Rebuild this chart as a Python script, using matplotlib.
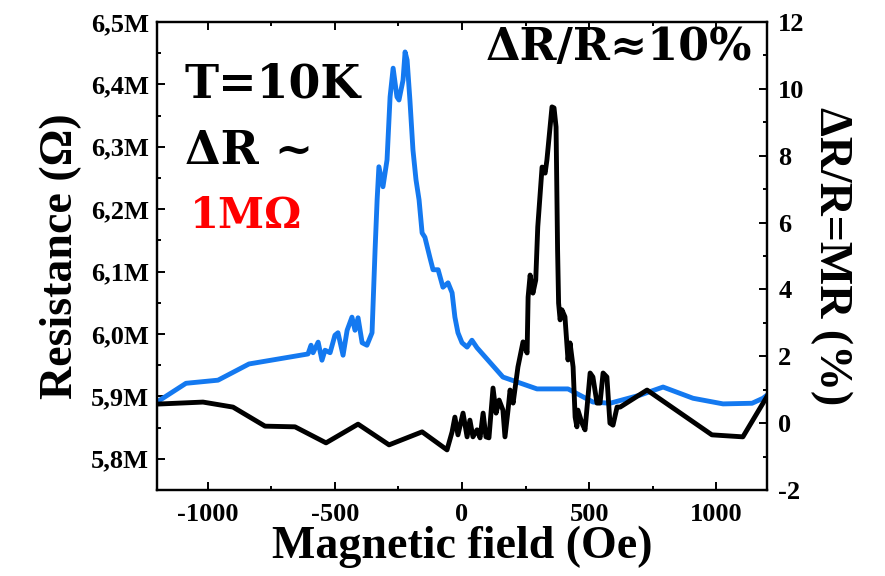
import numpy as np
import matplotlib.pyplot as plt
from matplotlib.ticker import FuncFormatter, MultipleLocator

plt.rcParams['axes.unicode_minus'] = False

# Resistance curve (blue), field in Oe, resistance in MOhm
field_r = [-1200, -1086, -960, -838, -606, -594, -586, -566, -551, -539, -519, -500,
           -488, -468, -452, -433, -421, -409, -393, -374, -354, -342, -334, -327,
           -311, -295, -283, -271, -256, -248, -232, -224, -216, -205, -193, -181,
           -169, -157, -146, -126, -114, -94, -75, -55, -39, -28, -16, 0, 20, 39,
           59, 161, 295, 417, 515, 582, 700, 791, 909, 1027, 1141, 1184, 1200]
resist = [5.891, 5.921, 5.926, 5.952, 5.968, 5.982, 5.970, 5.987, 5.958, 5.974, 5.970, 5.998,
          6.002, 5.966, 6.006, 6.027, 6.006, 6.026, 5.986, 5.982, 6.002, 6.135, 6.215, 6.268,
          6.236, 6.279, 6.380, 6.426, 6.380, 6.375, 6.407, 6.452, 6.439, 6.375, 6.295, 6.247,
          6.215, 6.162, 6.155, 6.122, 6.103, 6.103, 6.075, 6.082, 6.066, 6.027, 6.002, 5.986, 5.979, 5.990,
          5.978, 5.931, 5.912, 5.912, 5.891, 5.889, 5.902, 5.915, 5.897, 5.888, 5.889, 5.897, 5.902]

# MR curve (black), %
field_mr = [-1200, -1019, -901, -775, -657, -535, -409, -287, -157, -59, -39, -28, -16, 4,
            20, 31, 43, 59, 71, 83, 94, 106, 122, 134, 146, 161, 169, 181, 189, 201,
            220, 240, 256, 260, 268, 279, 290, 298, 315, 327, 334, 354, 362, 370, 376,
            380, 386, 393, 405, 417, 425, 437, 445, 452, 456, 472, 484, 504, 515, 531,
            543, 555, 570, 582, 594, 610, 622, 728, 983, 1105, 1200]
mr = [0.57, 0.63, 0.48, -0.09, -0.11, -0.59, -0.03, -0.65, -0.26, -0.80, -0.26, 0.18, -0.35, 0.30,
      -0.41, 0.09, -0.41, -0.20, -0.44, 0.30, -0.41, -0.44, 1.05, 0.30, 0.69, 0.39, -0.41, 0.39, 0.99, 0.60,
      1.68, 2.43, 2.10, 3.77, 4.43, 3.89, 4.28, 5.87, 7.66, 7.48, 7.87, 9.46, 9.43, 8.86, 5.18,
      3.59, 3.09, 3.39, 3.18, 1.89, 2.40, 1.68, 0.18, -0.11, 0.39, 0.00, -0.20, 1.50, 1.38, 0.60,
      0.60, 1.50, 1.38, 0.00, -0.06, 0.48, 0.48, 0.99, -0.35, -0.41, 0.80]

serif = ['Liberation Serif', 'DejaVu Serif']
slab = ['DejaVu Serif']

fig = plt.figure(figsize=(8.85, 5.76), dpi=100)
ax = fig.add_axes([0.1774, 0.1493, 0.6893, 0.8125])
ax2 = ax.twinx()

ax.plot(field_r, resist, color='#1479f0', lw=3.5, solid_joinstyle='round')
ax2.plot(field_mr, mr, color='black', lw=3.5, solid_joinstyle='round')

ax.set_xlim(-1200, 1200)
ax.set_ylim(5.75, 6.5)
ax2.set_ylim(-2, 12)

ax.xaxis.set_major_locator(MultipleLocator(500))
ax.xaxis.set_minor_locator(MultipleLocator(250))
ax.yaxis.set_major_locator(MultipleLocator(0.1))
ax.yaxis.set_minor_locator(MultipleLocator(0.05))
ax.yaxis.set_major_formatter(FuncFormatter(lambda v, p: f"{v:.1f}M".replace('.', ',')))
ax2.yaxis.set_major_locator(MultipleLocator(2))
ax2.yaxis.set_minor_locator(MultipleLocator(1))
ax2.yaxis.set_major_formatter(FuncFormatter(lambda v, p: f"{v:.0f}"))

for a in (ax, ax2):
    for s in a.spines.values():
        s.set_linewidth(1.6)
ax.tick_params(axis='x', which='both', direction='in', top=True, width=1.4)
ax.tick_params(axis='x', which='major', length=6, pad=9)
ax.tick_params(axis='x', which='minor', length=3)
ax.tick_params(axis='y', which='both', direction='in', width=1.4)
ax.tick_params(axis='y', which='major', length=6, pad=6)
ax.tick_params(axis='y', which='minor', length=3)
ax2.tick_params(axis='y', which='both', direction='in', width=1.4)
ax2.tick_params(axis='y', which='major', length=6, pad=8)
ax2.tick_params(axis='y', which='minor', length=3)

for lab in ax.get_xticklabels() + ax.get_yticklabels() + ax2.get_yticklabels():
    lab.set_family(serif)
    lab.set_fontweight('bold')
    lab.set_fontsize(19)

ax.set_xlabel('Magnetic field (Oe)', family=serif, fontweight='bold', fontsize=33, labelpad=0)
ax.set_ylabel('Resistance (Ω)', family=serif, fontweight='bold', fontsize=33, labelpad=6)
ax2.set_ylabel('ΔR/R=MR (%)', family=serif, fontweight='bold', fontsize=33, rotation=270, labelpad=34)

fig.text(0.209, 0.83, 'T=10K', family=slab, fontweight='bold', fontsize=33, color='black')
fig.text(0.209, 0.715, 'ΔR ~', family=slab, fontweight='bold', fontsize=33, color='black')
fig.text(0.214, 0.605, '1MΩ', family=slab, fontweight='bold', fontsize=30, color='#ff0000')
fig.text(0.85, 0.895, 'ΔR/R≈10%', family=slab, fontweight='bold', fontsize=32, color='black', ha='right')

plt.savefig('out.png', dpi=100)
